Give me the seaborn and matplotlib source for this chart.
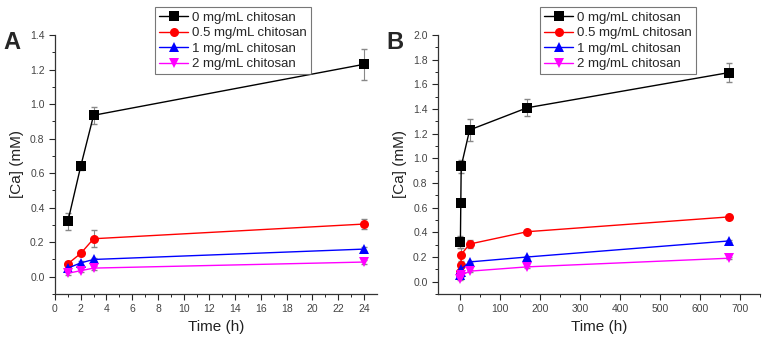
import pandas as pd
import numpy as np
import matplotlib.pyplot as plt
import seaborn as sns

plt.switch_backend('Agg')

# data
time_a = [1, 2, 3, 24]
time_b = [1, 2, 3, 24, 168, 672]
series = ['0 mg/mL chitosan', '0.5 mg/mL chitosan', '1 mg/mL chitosan', '2 mg/mL chitosan']
ca_0 = [0.32, 0.64, 0.935, 1.23, 1.41, 1.695]
ca_05 = [0.075, 0.135, 0.22, 0.305, 0.405, 0.525]
ca_1 = [0.05, 0.08, 0.10, 0.16, 0.20, 0.33]
ca_2 = [0.02, 0.035, 0.05, 0.085, 0.12, 0.19]
err_0 = [0.05, 0.02, 0.05, 0.09, 0.07, 0.08]
err_05 = [0.01, 0.01, 0.05, 0.03, 0.01, 0.01]
err_1 = [0.01, 0.01, 0.01, 0.01, 0.01, 0.01]
err_2 = [0.01, 0.01, 0.01, 0.01, 0.01, 0.01]

colors = ['black', '#ff0000', '#0000ff', '#ff00ff']
markers = ['s', 'o', '^', 'v']

rows = []
for name, vals, errs in zip(series, [ca_0, ca_05, ca_1, ca_2], [err_0, err_05, err_1, err_2]):
    for i, t in enumerate(time_b):
        rows.append({'Time': t, 'Ca': vals[i], 'err': errs[i], 'series': name})
df = pd.DataFrame(rows)

sns.set_style('ticks')
plt.rcParams['font.family'] = ['Liberation Sans', 'DejaVu Sans']

fig = plt.figure(figsize=(7.66, 3.40), dpi=100)
ax_a = fig.add_axes([0.0718, 0.1353, 0.42, 0.7618])
ax_b = fig.add_axes([0.5718, 0.1353, 0.4204, 0.7618])

panels = [(ax_a, df[df['Time'].isin(time_a)]), (ax_b, df)]
for ax, d in panels:
    for name, c, m in zip(series, colors, markers):
        sub = d[d['series'] == name]
        ax.errorbar(sub['Time'], sub['Ca'], yerr=sub['err'], fmt='none',
                    ecolor='#888888', elinewidth=0.8, capsize=2.5, zorder=1)
    sns.lineplot(data=d, x='Time', y='Ca', hue='series', style='series',
                 hue_order=series, style_order=series, palette=colors,
                 markers=markers, dashes=False, markersize=6.5, markeredgewidth=0,
                 linewidth=1, ax=ax, legend=False, zorder=3)
    sns.despine(ax=ax)
    ax.set_xlabel('Time (h)', fontsize=11, color='#222222')
    ax.set_ylabel('[Ca] (mM)', fontsize=11, color='#222222')
    ax.tick_params(labelsize=7.5, labelcolor='#444444', direction='out', length=4, width=0.8)
    ax.tick_params(which='minor', direction='out', length=2.5, width=0.7)
    for s in ax.spines.values():
        s.set_linewidth(0.9)
        s.set_color('#333333')

ax_a.set_xlim(0, 25)
ax_a.set_ylim(-0.1, 1.4)
ax_a.set_xticks(np.arange(0, 25, 2))
ax_a.set_xticks(np.arange(1, 25, 2), minor=True)
ax_a.set_yticks(np.arange(0, 1.41, 0.2))
ax_a.set_yticks(np.arange(-0.1, 1.41, 0.1), minor=True)
ax_a.yaxis.set_major_formatter(plt.FormatStrFormatter('%.1f'))

ax_b.set_xlim(-55, 750)
ax_b.set_ylim(-0.1, 2.0)
ax_b.set_xticks(np.arange(0, 701, 100))
ax_b.set_xticks(np.arange(50, 751, 100), minor=True)
ax_b.set_yticks(np.arange(0, 2.01, 0.2))
ax_b.set_yticks(np.arange(-0.1, 2.01, 0.1), minor=True)
ax_b.yaxis.set_major_formatter(plt.FormatStrFormatter('%.1f'))

handles = [plt.Line2D([], [], color=c, marker=m, markersize=6.5, markeredgewidth=0, linewidth=1)
           for c, m in zip(colors, markers)]
for bx in [0.2024, 0.7050]:
    leg = fig.legend(handles, series, loc='upper left', bbox_to_anchor=(bx, 0.978),
                     fontsize=9.5, frameon=True, fancybox=False, handlelength=2.2,
                     handletextpad=0.3, borderpad=0.3, labelspacing=0.25, borderaxespad=0)
    leg.get_frame().set_edgecolor('#555555')
    leg.get_frame().set_linewidth(0.8)

fig.text(0.005, 0.855, 'A', fontsize=17, fontweight='bold')
fig.text(0.505, 0.855, 'B', fontsize=17, fontweight='bold')

fig.savefig('out.png', dpi=100)
